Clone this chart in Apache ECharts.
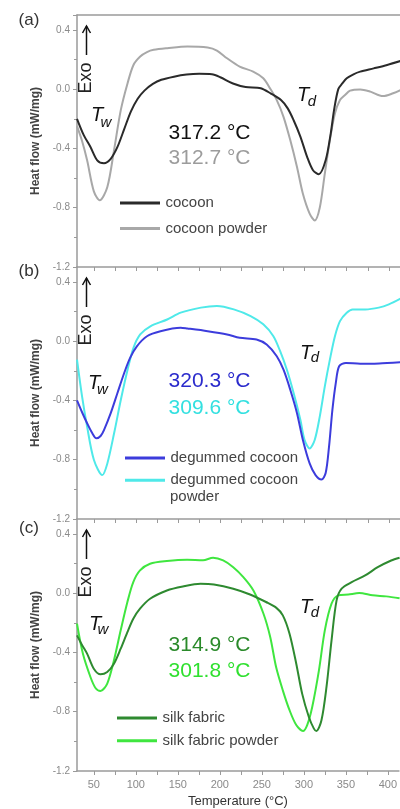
<!DOCTYPE html>
<html>
<head>
<meta charset="utf-8">
<script src="https://cdn.jsdelivr.net/npm/echarts@6/dist/echarts.min.js"></script>
<style>
html,body{margin:0;padding:0;background:#fff;}
#chart{width:400px;height:809px;}
</style>
</head>
<body>
<div id="chart"></div>
<script>
// ---------- DATA ----------
const xTickLabels = [50, 100, 150, 200, 250, 300, 350, 400];
const xTickMarks = [50, 75, 100, 125, 150, 175, 200, 225, 250, 275, 300, 325, 350, 375, 400];
const yTickLabels = [-1.2, -0.8, -0.4, 0.0, 0.4];

// (a) cocoon
const cocoonT = [30, 38, 46, 54, 62, 70, 78, 86, 94, 102, 110, 120, 130, 145, 160, 175, 190, 200, 215, 230, 248, 260, 272, 280, 287, 295, 303, 310, 317, 325, 331, 335, 340, 345, 350, 358, 366, 382, 398, 414];
const cocoonV = [-0.20, -0.31, -0.39, -0.48, -0.50, -0.47, -0.39, -0.27, -0.15, -0.065, -0.01, 0.035, 0.063, 0.084, 0.098, 0.103, 0.10, 0.08, 0.038, 0.014, 0.006, -0.03, -0.074, -0.13, -0.21, -0.32, -0.457, -0.547, -0.574, -0.48, -0.30, -0.14, 0.0, 0.04, 0.073, 0.10, 0.118, 0.14, 0.163, 0.19];
// (a) cocoon powder
const cocoonPowderT = [30, 36, 42, 50, 57, 66, 74, 82, 90, 97, 105, 113, 121, 137, 161, 185, 196, 208, 223, 239, 251, 259, 267, 275, 283, 291, 298, 306, 312, 318, 324, 330, 336, 342, 348, 354, 366, 378, 393, 405, 414];
const cocoonPowderV = [-0.25, -0.35, -0.48, -0.69, -0.75, -0.66, -0.41, -0.14, 0.04, 0.163, 0.22, 0.25, 0.265, 0.276, 0.287, 0.28, 0.26, 0.208, 0.152, 0.118, 0.073, 0.005, -0.074, -0.187, -0.344, -0.525, -0.706, -0.84, -0.886, -0.80, -0.57, -0.344, -0.165, -0.074, -0.04, -0.01, -0.002, -0.017, -0.047, -0.028, -0.006];
// (b) degummed cocoon
const degumT = [30, 36, 42, 48, 53, 58, 62, 70, 78, 86, 93, 101, 113, 129, 153, 161, 185, 208, 223, 243, 255, 267, 275, 283, 291, 298, 306, 313, 320, 325, 329, 333, 337, 341, 349, 366, 381, 398, 414];
const degumV = [-0.40, -0.48, -0.554, -0.62, -0.656, -0.64, -0.60, -0.486, -0.35, -0.215, -0.113, -0.035, 0.033, 0.067, 0.09, 0.085, 0.067, 0.045, 0.022, 0.011, -0.023, -0.102, -0.193, -0.328, -0.486, -0.667, -0.825, -0.904, -0.934, -0.89, -0.712, -0.464, -0.283, -0.17, -0.147, -0.152, -0.152, -0.147, -0.143];
// (b) degummed cocoon powder
const degumPowderT = [30, 36, 42, 50, 60, 66, 74, 82, 90, 97, 105, 117, 137, 153, 177, 196, 216, 236, 251, 263, 271, 279, 287, 295, 300, 306, 312, 318, 324, 330, 336, 342, 350, 357, 372, 388, 400, 414];
const degumPowderV = [-0.125, -0.373, -0.577, -0.80, -0.904, -0.825, -0.622, -0.396, -0.193, -0.045, 0.045, 0.10, 0.146, 0.192, 0.226, 0.237, 0.214, 0.169, 0.113, 0.033, -0.068, -0.193, -0.35, -0.53, -0.667, -0.724, -0.667, -0.509, -0.305, -0.125, 0.033, 0.135, 0.192, 0.214, 0.214, 0.226, 0.248, 0.287];
// (c) silk fabric
const silkT = [30, 36, 42, 50, 58, 66, 74, 82, 90, 97, 105, 117, 137, 156, 177, 193, 216, 236, 255, 267, 275, 283, 291, 298, 306, 312, 315, 321, 327, 333, 339, 345, 357, 373, 388, 404, 414];
const silkV = [-0.285, -0.35, -0.408, -0.51, -0.548, -0.532, -0.476, -0.375, -0.263, -0.173, -0.105, -0.038, 0.018, 0.045, 0.063, 0.058, 0.03, -0.009, -0.06, -0.098, -0.15, -0.274, -0.476, -0.678, -0.836, -0.914, -0.93, -0.858, -0.633, -0.319, -0.049, 0.03, 0.074, 0.119, 0.175, 0.22, 0.239];
// (c) silk fabric powder
const silkPowderT = [30, 37, 46, 52, 58, 66, 74, 82, 90, 97, 105, 117, 137, 161, 180, 192, 204, 216, 228, 240, 252, 260, 267, 275, 283, 291, 299, 304, 310, 318, 325, 333, 341, 353, 366, 382, 398, 414];
const silkPowderV = [-0.206, -0.408, -0.566, -0.64, -0.66, -0.61, -0.453, -0.251, -0.06, 0.074, 0.153, 0.198, 0.216, 0.225, 0.221, 0.239, 0.221, 0.175, 0.108, 0.018, -0.139, -0.296, -0.499, -0.656, -0.79, -0.89, -0.93, -0.89, -0.768, -0.521, -0.251, -0.071, -0.015, -0.009, 0.0, -0.015, -0.022, -0.034];

const panelLetters = ['(a)', '(b)', '(c)'];
const peakLabels = [['317.2 °C', '312.7 °C'], ['320.3 °C', '309.6 °C'], ['314.9 °C', '301.8 °C']];
const seriesNames = [['cocoon', 'cocoon powder'], ['degummed cocoon', 'degummed cocoon powder'], ['silk fabric', 'silk fabric powder']];

// ---------- STYLE ----------
const FONT = 'Liberation Sans, Arial, sans-serif';
const lineColors = [['#2a2a2a', '#a8a8a8'], ['#3c3cdc', '#4fe9e9'], ['#2e8a30', '#3fe63f']];
const peakColors = [['#111111', '#9c9c9c'], ['#2b2bcc', '#33e0e0'], ['#2a8a2a', '#2fe02f']];
const axisGray = '#9a9a9a';
const gridTops = [15, 267, 519];
const gridH = 252;
const X_MIN = 30, X_MAX = 413.2;

const zip = (a, b) => a.map((t, i) => [t, b[i]]);
const seriesData = [
  [zip(cocoonT, cocoonV), zip(cocoonPowderT, cocoonPowderV)],
  [zip(degumT, degumV), zip(degumPowderT, degumPowderV)],
  [zip(silkT, silkV), zip(silkPowderT, silkPowderV)]
];

const chart = echarts.init(document.getElementById('chart'), null, {renderer: 'canvas'});

const grids = [], xAxes = [], yAxes = [], series = [], legends = [], graphics = [];
const legendTops = [195, 450, 710];
const legendLefts = [120, 125, 117];
const legendGaps = [9.6, 6.3, 6.7];
const lineIcon = 'path://M0,0L40,0L40,3L0,3Z';

for (let p = 0; p < 3; p++) {
  grids.push({left: 77, top: gridTops[p], right: 0, height: gridH, show: false});
  xAxes.push({
    type: 'value', gridIndex: p, min: X_MIN, max: X_MAX, position: 'bottom',
    axisLine: {show: true, onZero: false, lineStyle: {color: axisGray, width: 1.5}},
    axisTick: {show: true, customValues: xTickMarks, length: 4, lineStyle: {color: axisGray, width: 1}},
    axisLabel: {show: p === 2, customValues: xTickLabels, color: '#8a8a8a', fontSize: 11, fontFamily: FONT, margin: 8},
    splitLine: {show: false},
    name: p === 2 ? 'Temperature (°C)' : '', nameLocation: 'middle', nameGap: 24,
    nameTextStyle: {color: '#333', fontSize: 13, fontFamily: FONT}
  });
  yAxes.push({
    type: 'value', gridIndex: p, min: -1.2, max: 0.5, interval: 0.4,
    axisLine: {show: true, onZero: false, lineStyle: {color: axisGray, width: 1.5}},
    axisTick: {show: true, length: 4, lineStyle: {color: axisGray, width: 1}},
    minorTick: {show: true, splitNumber: 2, length: 3, lineStyle: {color: axisGray, width: 1}},
    axisLabel: {color: '#8a8a8a', fontSize: 10, fontFamily: FONT, margin: 7,
      formatter: v => (yTickLabels.some(t => Math.abs(t - v) < 1e-6) ? v.toFixed(1) : '')},
    splitLine: {show: false},
    name: 'Heat flow (mW/mg)', nameLocation: 'middle', nameGap: 27,
    nameTextStyle: {color: '#444', fontSize: 12, fontWeight: 'bold', fontFamily: FONT}
  });
  for (let s = 0; s < 2; s++) {
    series.push({
      type: 'line', name: seriesNames[p][s], xAxisIndex: p, yAxisIndex: p,
      data: seriesData[p][s], symbol: 'none', smooth: 0.3, clip: true,
      lineStyle: {color: lineColors[p][s], width: 2}, itemStyle: {color: lineColors[p][s]},
      z: s === 0 ? 3 : 2
    });
  }
  legends.push({
    data: seriesNames[p].map(n => ({name: n, icon: lineIcon})), orient: 'vertical',
    left: legendLefts[p], top: legendTops[p], padding: 0,
    itemWidth: 43, itemHeight: 3, itemGap: legendGaps[p], selectedMode: false,
    formatter: n => (n === 'degummed cocoon powder' ? 'degummed cocoon' : n),
    textStyle: {color: '#444', fontSize: 15, fontFamily: FONT, lineHeight: 16, padding: [0, 0, 0, -1]}
  });
}
// top frame line of panel (a)
xAxes.push({
  type: 'value', gridIndex: 0, min: X_MIN, max: X_MAX, position: 'top',
  axisLine: {show: true, onZero: false, lineStyle: {color: axisGray, width: 1.5}},
  axisTick: {show: false}, axisLabel: {show: false}, splitLine: {show: false}
});

// annotations
const letterY = [20, 271, 528];
const tw = [[97, 115.5, 106, 123], [94, 383.5, 102.5, 390], [95, 624, 103, 630]];
const td = [[303, 95.5, 312, 102], [306, 353, 315, 357.5], [306, 607.5, 315, 613]];
const peakY = [[133.5, 158.5], [381.7, 408.5], [645, 671.7]];
for (let p = 0; p < 3; p++) {
  const top = gridTops[p];
  graphics.push({type: 'text', x: 29, y: letterY[p], style: {text: panelLetters[p], font: '17px ' + FONT, fill: '#333', align: 'center', verticalAlign: 'middle'}});
  // Exo arrow
  graphics.push({type: 'line', shape: {x1: 86.5, y1: top + 40, x2: 86.5, y2: top + 11}, style: {stroke: '#111', lineWidth: 1.5}});
  graphics.push({type: 'polyline', shape: {points: [[82.5, top + 18], [86.5, top + 11], [90.5, top + 18]]}, style: {stroke: '#111', lineWidth: 1.5, fill: null}});
  graphics.push({type: 'text', x: 86.5, y: top + 63, rotation: Math.PI / 2, style: {text: 'Exo', font: '18px ' + FONT, fill: '#222', align: 'center', verticalAlign: 'middle'}});
  // T_w, T_d
  graphics.push({type: 'text', x: tw[p][0], y: tw[p][1], style: {text: 'T', font: 'italic 20px ' + FONT, fill: '#111', align: 'center', verticalAlign: 'middle'}});
  graphics.push({type: 'text', x: tw[p][2], y: tw[p][3], style: {text: 'w', font: 'italic 15px ' + FONT, fill: '#111', align: 'center', verticalAlign: 'middle'}});
  graphics.push({type: 'text', x: td[p][0], y: td[p][1], style: {text: 'T', font: 'italic 20px ' + FONT, fill: '#111', align: 'center', verticalAlign: 'middle'}});
  graphics.push({type: 'text', x: td[p][2], y: td[p][3], style: {text: 'd', font: 'italic 15px ' + FONT, fill: '#111', align: 'center', verticalAlign: 'middle'}});
  // peak temperatures
  for (let s = 0; s < 2; s++) {
    graphics.push({type: 'text', x: 209.5, y: peakY[p][s], style: {text: peakLabels[p][s], font: '21px ' + FONT, fill: peakColors[p][s], align: 'center', verticalAlign: 'middle'}});
  }
}
graphics.push({type: 'text', x: 170, y: 497, style: {text: 'powder', font: '15px ' + FONT, fill: '#444', align: 'left', verticalAlign: 'middle'}});

chart.setOption({
  animation: false,
  backgroundColor: '#fff',
  textStyle: {fontFamily: FONT},
  grid: grids, xAxis: xAxes, yAxis: yAxes, series: series, legend: legends,
  graphic: {elements: graphics}
});
</script>
</body>
</html>
